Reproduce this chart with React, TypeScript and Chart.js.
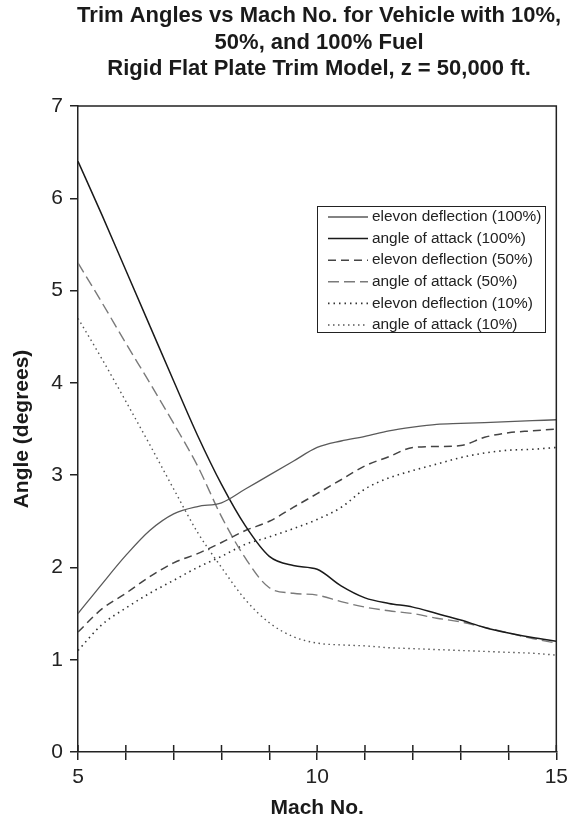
import { useEffect, useRef } from 'react';
import { Chart, registerables } from 'chart.js';

Chart.register(...registerables);

const machNumbers = [5, 5.5, 6, 6.5, 7, 7.5, 8, 8.5, 9, 9.5, 10, 10.5, 11, 11.5, 12, 12.5, 13, 13.5, 14, 14.5, 15];

const elevon100 = [1.5, 1.82, 2.13, 2.4, 2.58, 2.66, 2.7, 2.85, 3.0, 3.15, 3.3, 3.37, 3.42, 3.48, 3.52, 3.55, 3.56, 3.57, 3.58, 3.59, 3.6];
const aoa100 = [6.4, 5.82, 5.22, 4.62, 4.02, 3.43, 2.9, 2.45, 2.12, 2.02, 1.98, 1.8, 1.67, 1.61, 1.57, 1.5, 1.43, 1.35, 1.29, 1.24, 1.2];
const elevon50 = [1.3, 1.55, 1.72, 1.9, 2.05, 2.15, 2.27, 2.4, 2.5, 2.65, 2.8, 2.95, 3.1, 3.2, 3.3, 3.31, 3.32, 3.41, 3.46, 3.48, 3.5];
const aoa50 = [5.3, 4.87, 4.43, 4.0, 3.56, 3.1, 2.55, 2.1, 1.78, 1.72, 1.7, 1.63, 1.57, 1.53, 1.5, 1.45, 1.41, 1.35, 1.29, 1.23, 1.18];
const elevon10 = [1.1, 1.38, 1.56, 1.72, 1.86, 2.0, 2.12, 2.25, 2.33, 2.42, 2.52, 2.65, 2.85, 2.97, 3.05, 3.12, 3.19, 3.24, 3.27, 3.28, 3.3];
const aoa10 = [4.7, 4.26, 3.8, 3.33, 2.85, 2.38, 2.0, 1.65, 1.4, 1.25, 1.18, 1.16, 1.15, 1.13, 1.12, 1.11, 1.1, 1.09, 1.08, 1.07, 1.05];

const seriesLabels = [
  'elevon deflection (100%)',
  'angle of attack (100%)',
  'elevon deflection (50%)',
  'angle of attack (50%)',
  'elevon deflection (10%)',
  'angle of attack (10%)',
];

const xLabelTicks = [5, 10, 15];
const titleLines = [
  'Trim Angles vs Mach No. for Vehicle with 10%,',
  '50%, and 100% Fuel',
  'Rigid Flat Plate Trim Model, z = 50,000 ft.',
];
const xAxisTitle = 'Mach No.';
const yAxisTitle = 'Angle (degrees)';

const FONT = '"Liberation Sans", Arial, Helvetica, sans-serif';

const decorPlugin = {
  id: 'decor',
  afterDraw(chart: any) {
    const { ctx, chartArea: a, scales } = chart;
    ctx.save();
    // frame top and right
    ctx.strokeStyle = '#222';
    ctx.lineWidth = 1.5;
    ctx.setLineDash([]);
    ctx.beginPath();
    ctx.moveTo(a.left, a.top);
    ctx.lineTo(a.right, a.top);
    ctx.lineTo(a.right, a.bottom);
    ctx.stroke();
    // inner part of x ticks (ticks cross the axis)
    for (let m = 5; m <= 15; m++) {
      const x = scales.x.getPixelForValue(m);
      ctx.beginPath();
      ctx.moveTo(x, a.bottom - 7);
      ctx.lineTo(x, a.bottom);
      ctx.stroke();
    }
    // title
    ctx.fillStyle = '#1a1a1a';
    ctx.font = `bold 22px ${FONT}`;
    ctx.textAlign = 'center';
    ctx.textBaseline = 'middle';
    const cx = (a.left + a.right) / 2 + 2;
    const cy = [16, 43, 69];
    titleLines.forEach((t, i) => ctx.fillText(t, cx, cy[i]));
    // legend
    const bx = a.left + 239;
    const by = a.top + 100;
    const bw = 228;
    const bh = 126;
    ctx.lineWidth = 1;
    ctx.strokeStyle = '#222';
    ctx.strokeRect(bx + 0.5, by + 0.5, bw, bh);
    ctx.font = `15.4px ${FONT}`;
    ctx.textAlign = 'left';
    chart.data.datasets.forEach((ds: any, i: number) => {
      const y = by + 11 + i * 21.6;
      ctx.strokeStyle = ds.borderColor;
      ctx.lineWidth = ds.borderWidth;
      ctx.setLineDash(ds.borderDash || []);
      ctx.beginPath();
      ctx.moveTo(bx + 11, y);
      ctx.lineTo(bx + 51, y);
      ctx.stroke();
      ctx.setLineDash([]);
      ctx.fillStyle = '#222';
      ctx.fillText(ds.label, bx + 55, y);
    });
    ctx.restore();
  },
};

export default function App() {
  const canvasRef = useRef<HTMLCanvasElement | null>(null);

  useEffect(() => {
    document.body.style.margin = '0';
    const canvas = canvasRef.current;
    if (!canvas) return;
    const styles = [
      { color: '#5a5a5a', dash: [], width: 1.3 },
      { color: '#1a1a1a', dash: [], width: 1.5 },
      { color: '#444444', dash: [8, 5], width: 1.5 },
      { color: '#7a7a7a', dash: [11, 5], width: 1.4 },
      { color: '#333333', dash: [1.5, 4], width: 1.6 },
      { color: '#555555', dash: [1.5, 3.5], width: 1.4 },
    ];
    const series = [elevon100, aoa100, elevon50, aoa50, elevon10, aoa10];
    const chart = new Chart(canvas, {
      type: 'line',
      data: {
        datasets: series.map((vals, i) => ({
          label: seriesLabels[i],
          data: machNumbers.map((m, j) => ({ x: m, y: vals[j] })),
          borderColor: styles[i].color,
          borderDash: styles[i].dash,
          borderWidth: styles[i].width,
          pointRadius: 0,
          fill: false,
          cubicInterpolationMode: 'monotone' as const,
        })),
      },
      options: {
        animation: false,
        responsive: false,
        layout: { padding: { top: 106, right: 14, left: 0, bottom: 0 } },
        plugins: {
          legend: { display: false },
          title: { display: false },
          tooltip: { enabled: false },
        },
        scales: {
          x: {
            type: 'linear',
            min: 5,
            max: 15,
            afterFit: (s: any) => { s.height = 73; },
            border: { display: true, color: '#222', width: 1.5 },
            grid: { display: true, drawOnChartArea: false, drawTicks: true, tickLength: 8, color: '#222', lineWidth: 1.5 },
            ticks: {
              stepSize: 1,
              autoSkip: false,
              maxRotation: 0,
              padding: 5,
              color: '#222',
              font: { family: FONT, size: 21 },
              callback: (v: any) => (xLabelTicks.includes(Number(v)) ? String(v) : ''),
            },
            title: {
              display: true,
              text: xAxisTitle,
              color: '#1a1a1a',
              font: { family: FONT, size: 21, weight: 'bold' },
              padding: { top: 0, bottom: 4 },
            },
          },
          y: {
            type: 'linear',
            min: 0,
            max: 7,
            afterFit: (s: any) => { s.width = 78; },
            border: { display: true, color: '#222', width: 1.5 },
            grid: { display: true, drawOnChartArea: false, drawTicks: true, tickLength: 8, color: '#222', lineWidth: 1.5 },
            ticks: {
              stepSize: 1,
              padding: 7,
              color: '#222',
              font: { family: FONT, size: 21 },
            },
            title: {
              display: true,
              text: yAxisTitle,
              color: '#1a1a1a',
              font: { family: FONT, size: 21, weight: 'bold' },
              padding: { top: 10, bottom: 0 },
            },
          },
        },
      },
      plugins: [decorPlugin],
    });
    return () => chart.destroy();
  }, []);

  return <canvas ref={canvasRef} width={573} height={825} style={{ display: 'block' }} />;
}
